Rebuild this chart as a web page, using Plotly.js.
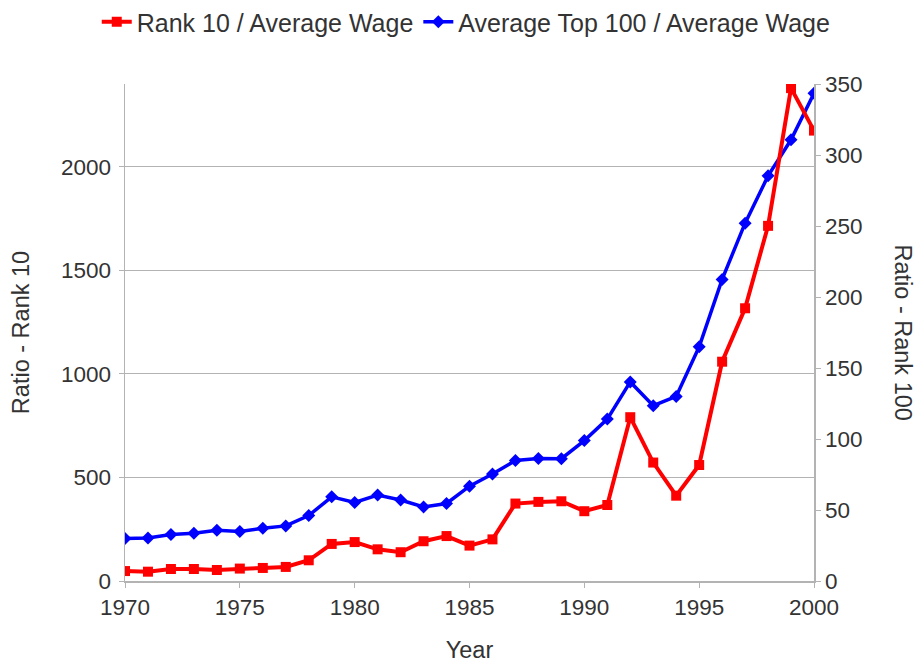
<!DOCTYPE html>
<html>
<head>
<meta charset="utf-8">
<script src="https://cdn.plot.ly/plotly-3.0.1.min.js"></script>
<style>html,body{margin:0;padding:0;background:#fff;}#chart{width:918px;height:663px;}</style>
</head>
<body>
<div id="chart"></div>
<script>
const years = [1970,1971,1972,1973,1974,1975,1976,1977,1978,1979,1980,1981,1982,1983,1984,1985,1986,1987,1988,1989,1990,1991,1992,1993,1994,1995,1996,1997,1998,1999,2000];
const rank10 = [48,45,58,58,53,60,63,68,100,179,188,153,139,192,217,171,201,374,382,385,337,367,791,572,412,560,1059,1317,1715,2380,2175];
const top100 = [29.9,30.3,32.7,33.6,35.8,34.8,37.2,38.8,46.1,59.3,55.3,60.5,57,52.2,54.6,66.8,75.3,84.9,86.3,86.1,98.9,114,140.2,123.5,130,164.9,212.4,252,285.3,310.7,343.5];
const seriesNames = ["Rank 10 / Average Wage", "Average Top 100 / Average Wage"];
const xTitle = "Year", leftTitle = "Ratio - Rank 10", rightTitle = "Ratio - Rank 100";
const xTicks = [1970,1975,1980,1985,1990,1995,2000];
const leftTicks = [0,500,1000,1500,2000];

const fam = "Liberation Sans, Arial, sans-serif";
const tickFont = {family: fam, size: 22.5, color: "#333333"};
const titleFont = {family: fam, size: 23.5, color: "#333333"};
const legendFont = {family: fam, size: 25, color: "#333333"};
const axisColor = "#b3b3b3";

const traces = [
  {x: years, y: top100, name: seriesNames[1], type: "scatter", mode: "lines+markers",
   yaxis: "y", line: {color: "#0000ff", width: 3.5}, marker: {symbol: "diamond", size: 10, color: "#0000ff"},
   legendrank: 2},
  {x: years, y: rank10, name: seriesNames[0], type: "scatter", mode: "lines+markers",
   yaxis: "y2", line: {color: "#ff0000", width: 4}, marker: {symbol: "square", size: 10, color: "#ff0000"},
   legendrank: 1}
];

const layout = {
  width: 918, height: 663,
  margin: {l: 125, r: 104, t: 84, b: 82, autoexpand: false},
  paper_bgcolor: "#ffffff", plot_bgcolor: "#ffffff",
  font: tickFont,
  showlegend: true,
  legend: {orientation: "h", x: -0.041, xanchor: "left", y: 1.1247, yanchor: "middle",
           font: legendFont, itemwidth: 30, tracegroupgap: 0},
  xaxis: {range: [1970, 2000], tickmode: "array", tickvals: xTicks,
          showgrid: false, zeroline: false, showline: true, linecolor: axisColor, linewidth: 1.5,
          ticks: "outside", ticklen: 5, tickcolor: axisColor, tickfont: tickFont,
          title: {text: xTitle, font: titleFont, standoff: 27}},
  yaxis: {range: [0, 350], dtick: 50, side: "right", showgrid: false, zeroline: false,
          showline: true, linecolor: axisColor, linewidth: 1.5, ticks: "outside", ticklen: 5,
          tickcolor: axisColor, tickfont: tickFont},
  yaxis2: {range: [0, 2400], tickmode: "array", tickvals: leftTicks, side: "left", overlaying: "y",
           showgrid: true, gridcolor: axisColor, gridwidth: 1, zeroline: false,
           showline: true, linecolor: axisColor, linewidth: 1.5, ticks: "outside", ticklen: 5,
           tickcolor: axisColor, tickfont: tickFont, ticklabelstandoff: 3,
           title: {text: leftTitle, font: titleFont, standoff: 24}},
  annotations: [{text: rightTitle, textangle: 90, xref: "paper", yref: "paper",
                 x: 1.0, xshift: 89, y: 0.5, showarrow: false, font: titleFont,
                 xanchor: "center", yanchor: "middle"}]
};

Plotly.newPlot("chart", traces, layout, {displayModeBar: false, staticPlot: true});
</script>
</body>
</html>
